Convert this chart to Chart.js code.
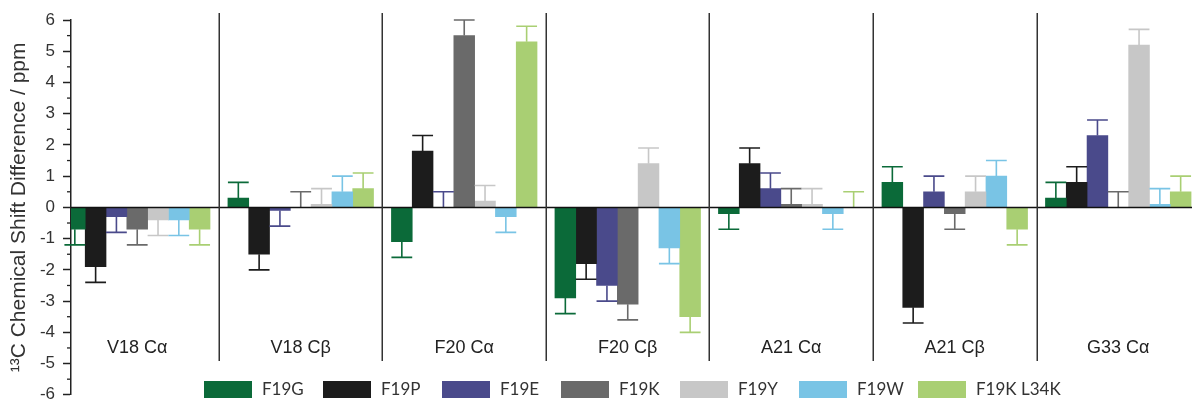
<!DOCTYPE html>
<html><head><meta charset="utf-8">
<script src="https://cdn.jsdelivr.net/npm/chart.js@4.4.0/dist/chart.umd.min.js"></script>
<style>html,body{margin:0;padding:0;background:#fff;overflow:hidden}#wrap{width:1192px;height:401px;position:relative;overflow:hidden}</style>
</head><body><div id="wrap"><canvas id="c" width="1192" height="413"></canvas></div>
<script>
// ---- data ----
const categories = ['V18 Cα', 'V18 Cβ', 'F20 Cα', 'F20 Cβ', 'A21 Cα', 'A21 Cβ', 'G33 Cα'];
const seriesNames = ['F19G', 'F19P', 'F19E', 'F19K', 'F19Y', 'F19W', 'F19K L34K'];
const F19G      = [-0.7,  0.3, -1.1, -2.9, -0.2,  0.8, 0.3];
const F19P      = [-1.9, -1.5,  1.8, -1.8,  1.4, -3.2, 0.8];
const F19E      = [-0.3, -0.1,  0.0, -2.5,  0.6,  0.5, 2.3];
const F19K      = [-0.7,  0.0,  5.5, -3.1,  0.1, -0.2, 0.0];
const F19Y      = [-0.4,  0.1,  0.2,  1.4,  0.1,  0.5, 5.2];
const F19W      = [-0.4,  0.5, -0.3, -1.3, -0.2,  1.0, 0.1];
const F19K_L34K = [-0.7,  0.6,  5.3, -3.5,  0.0, -0.7, 0.5];
const errF19G      = [0.5, 0.5, 0.5, 0.5, 0.5, 0.5, 0.5];
const errF19P      = [0.5, 0.5, 0.5, 0.5, 0.5, 0.5, 0.5];
const errF19E      = [0.5, 0.5, 0.5, 0.5, 0.5, 0.5, 0.5];
const errF19K      = [0.5, 0.5, 0.5, 0.5, 0.5, 0.5, 0.5];
const errF19Y      = [0.5, 0.5, 0.5, 0.5, 0.5, 0.5, 0.5];
const errF19W      = [0.5, 0.5, 0.5, 0.5, 0.5, 0.5, 0.5];
const errF19K_L34K = [0.5, 0.5, 0.5, 0.5, 0.5, 0.5, 0.5];
const yTickValues = [-6, -5, -4, -3, -2, -1, 0, 1, 2, 3, 4, 5, 6];
const yTitle = '¹³C Chemical Shift Difference / ppm';

// ---- styles ----
const colors = ['#0b6a39', '#1c1c1c', '#4a4a8b', '#6a6a6a', '#c7c7c7', '#79c4e5', '#a9cf73'];
const seriesValues = [F19G, F19P, F19E, F19K, F19Y, F19W, F19K_L34K];
const seriesErrors = [errF19G, errF19P, errF19E, errF19K, errF19Y, errF19W, errF19K_L34K];
const FONT = "'Liberation Sans', Arial, sans-serif";
Chart.defaults.font.family = FONT;

const extras = {
  id: 'extras',
  afterDatasetsDraw(chart) {
    const ctx = chart.ctx, xs = chart.scales.x, ys = chart.scales.y, ca = chart.chartArea;
    ctx.save();
    // error bars
    chart.data.datasets.forEach((ds, k) => {
      const meta = chart.getDatasetMeta(k);
      meta.data.forEach((bar, i) => {
        const v = ds.data[i].y, e = ds.errors[i];
        const yEnd = ys.getPixelForValue(v >= 0 ? v + e : v - e);
        const yStart = ys.getPixelForValue(v);
        const half = bar.width / 2;
        ctx.strokeStyle = ds.backgroundColor;
        ctx.lineWidth = 1.6;
        ctx.beginPath();
        ctx.moveTo(bar.x, yStart); ctx.lineTo(bar.x, yEnd);
        ctx.moveTo(bar.x - half, yEnd); ctx.lineTo(bar.x + half, yEnd);
        ctx.stroke();
      });
    });
    // zero line
    const y0 = ys.getPixelForValue(0);
    ctx.strokeStyle = '#111'; ctx.lineWidth = 1.5;
    ctx.beginPath(); ctx.moveTo(ca.left, y0); ctx.lineTo(ca.right, y0); ctx.stroke();
    // separators
    ctx.strokeStyle = '#333'; ctx.lineWidth = 1.5;
    for (let i = 0; i < categories.length - 1; i++) {
      const px = Math.round(xs.getPixelForValue(i + 0.5)) + 0.25;
      ctx.beginPath(); ctx.moveTo(px, ca.top - 7); ctx.lineTo(px, ca.bottom); ctx.stroke();
    }
    // minor ticks
    ctx.strokeStyle = '#222'; ctx.lineWidth = 1.3;
    for (let t = 0; t < yTickValues.length - 1; t++) {
      const py = ys.getPixelForValue((yTickValues[t] + yTickValues[t + 1]) / 2);
      ctx.beginPath(); ctx.moveTo(ca.left - 4, py); ctx.lineTo(ca.left, py); ctx.stroke();
    }
    // category labels
    ctx.fillStyle = '#222';
    ctx.font = '18px ' + FONT;
    ctx.textAlign = 'center'; ctx.textBaseline = 'middle';
    categories.forEach((c, i) => ctx.fillText(c, xs.getPixelForValue(i), ys.getPixelForValue(-4.5)));
    ctx.restore();
  },
  afterDraw(chart) {
    const ctx = chart.ctx;
    ctx.save();
    ctx.fillStyle = '#fff';
    ctx.fillRect(190, 361, 900, 52);
    ctx.font = "17px 'Liberation Sans Narrow', Lato, sans-serif";
    ctx.textAlign = 'left'; ctx.textBaseline = 'middle';
    chart.data.datasets.forEach((ds, k) => {
      const x = 204 + k * 119;
      ctx.fillStyle = ds.backgroundColor;
      ctx.fillRect(x, 381, 48, 17);
      ctx.fillStyle = '#333';
      ctx.fillText(ds.label, x + 58, 390);
    });
    ctx.restore();
  }
};

new Chart(document.getElementById('c'), {
  type: 'bar',
  data: {
    datasets: seriesNames.map((n, k) => ({
      label: n,
      data: seriesValues[k].map((v, i) => ({ x: i, y: v })),
      errors: seriesErrors[k],
      backgroundColor: colors[k],
      borderWidth: 0
    }))
  },
  options: {
    responsive: false,
    devicePixelRatio: 1,
    animation: false,
    layout: { padding: { top: 20, bottom: 8, left: 0, right: 0 } },
    datasets: { bar: { barThickness: 20.8 } },
    plugins: { legend: { display: false }, tooltip: { enabled: false } },
    scales: {
      x: { type: 'linear', min: -0.405, max: 6.451, display: false, offset: false },
      y: {
        min: yTickValues[0], max: yTickValues[yTickValues.length - 1],
        afterBuildTicks(s) { s.ticks = yTickValues.map(v => ({ value: v })); },
        ticks: { font: { size: 17 }, color: '#333', padding: 8 },
        grid: { drawOnChartArea: false, tickLength: 8, tickColor: '#222', tickWidth: 1.5 },
        border: { color: '#222', width: 1.5 },
        title: { display: true, text: yTitle, font: { size: 21 }, color: '#333', padding: { top: 7, bottom: 0 } },
        afterFit(s) { s.width = 71; }
      }
    }
  },
  plugins: [extras]
});
</script>
</body></html>
